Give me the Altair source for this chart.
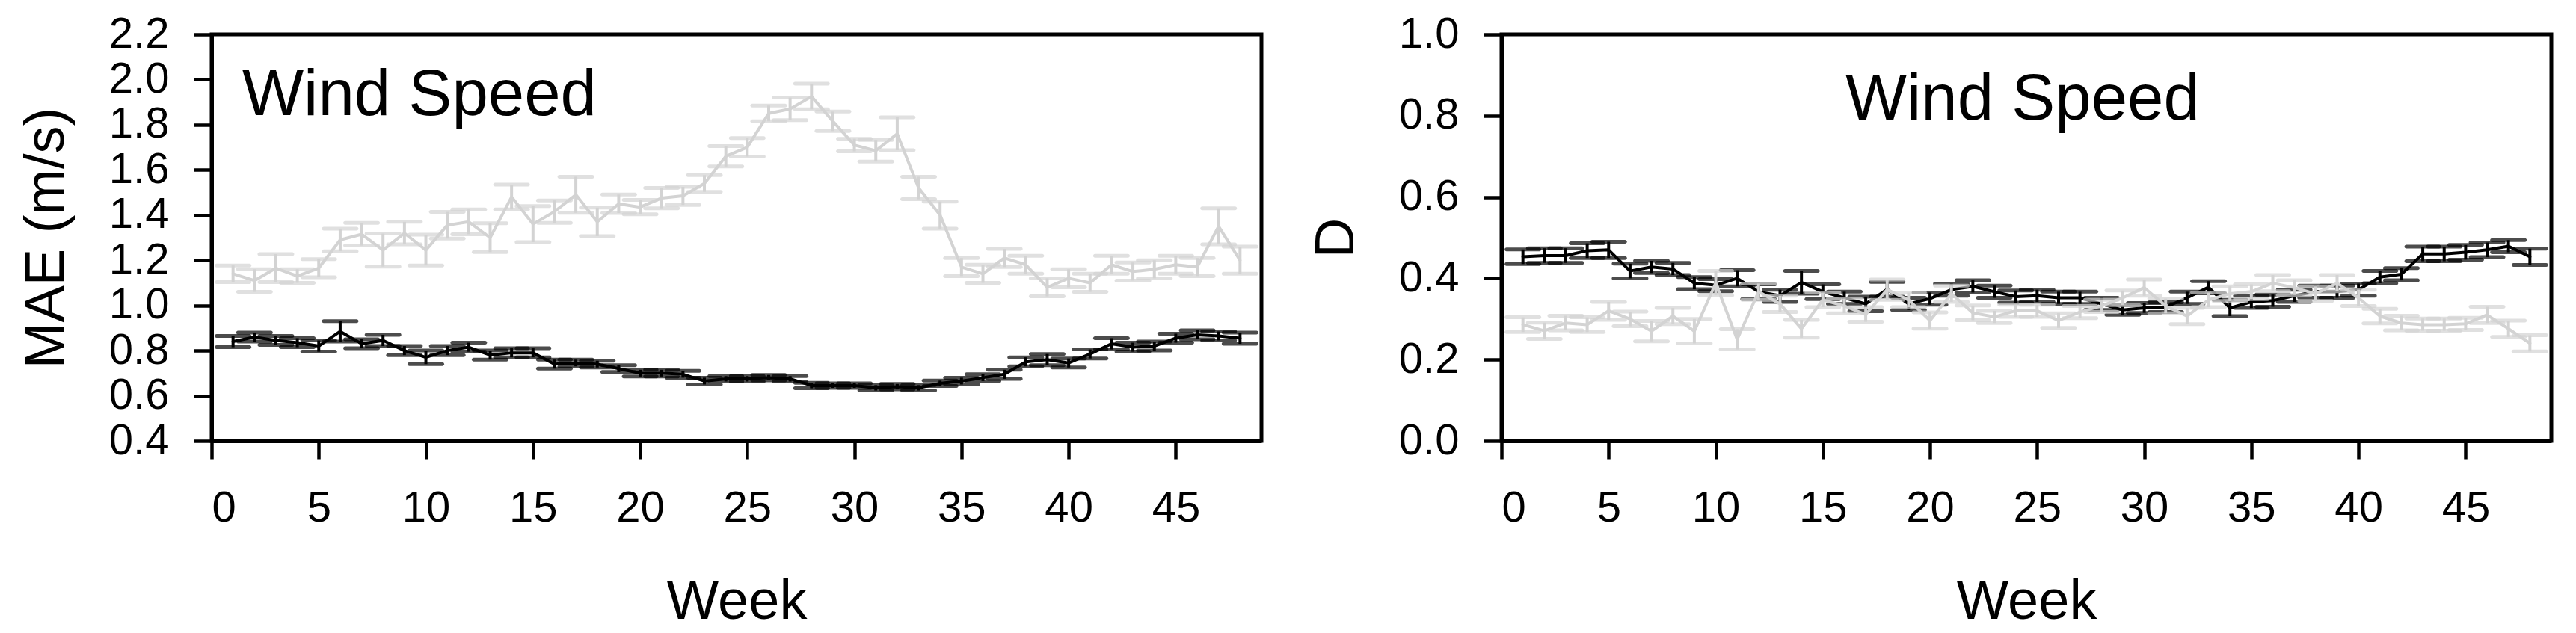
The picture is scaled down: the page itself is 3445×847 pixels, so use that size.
import altair as alt
import pandas as pd

weeks = list(range(1, 49))

mae_black = [0.84, 0.86, 0.845, 0.835, 0.82, 0.885, 0.83, 0.845, 0.80, 0.77, 0.80, 0.815,
             0.78, 0.79, 0.79, 0.74, 0.745, 0.74, 0.72, 0.70, 0.70, 0.695, 0.665, 0.675,
             0.675, 0.68, 0.675, 0.645, 0.645, 0.645, 0.635, 0.64, 0.635, 0.655, 0.665, 0.68,
             0.695, 0.75, 0.76, 0.745, 0.785, 0.83, 0.815, 0.82, 0.855, 0.87, 0.865, 0.855]
mae_black_err = [0.025, 0.02, 0.02, 0.02, 0.025, 0.045, 0.02, 0.025, 0.02, 0.03, 0.02, 0.02,
                 0.02, 0.02, 0.02, 0.02, 0.015, 0.015, 0.015, 0.015, 0.015, 0.015, 0.015, 0.012,
                 0.012, 0.012, 0.012, 0.012, 0.01, 0.01, 0.012, 0.012, 0.012, 0.012, 0.015, 0.015,
                 0.02, 0.02, 0.025, 0.02, 0.02, 0.025, 0.02, 0.02, 0.02, 0.02, 0.02, 0.025]
mae_gray = [1.14, 1.11, 1.165, 1.13, 1.165, 1.29, 1.315, 1.245, 1.32, 1.245, 1.355, 1.37,
            1.30, 1.48, 1.36, 1.415, 1.49, 1.37, 1.45, 1.435, 1.475, 1.485, 1.54, 1.66,
            1.70, 1.85, 1.87, 1.925, 1.815, 1.71, 1.685, 1.76, 1.52, 1.40, 1.17, 1.14,
            1.21, 1.18, 1.08, 1.12, 1.10, 1.18, 1.15, 1.16, 1.18, 1.17, 1.35, 1.20]
mae_gray_err = [0.037, 0.05, 0.062, 0.03, 0.04, 0.05, 0.05, 0.073, 0.05, 0.068, 0.059, 0.055,
                0.064, 0.055, 0.08, 0.05, 0.08, 0.063, 0.041, 0.032, 0.045, 0.04, 0.037, 0.045,
                0.041, 0.035, 0.05, 0.057, 0.043, 0.028, 0.048, 0.073, 0.05, 0.06, 0.04, 0.04,
                0.04, 0.04, 0.04, 0.04, 0.04, 0.04, 0.04, 0.04, 0.04, 0.04, 0.08, 0.06]

d_black = [0.453, 0.456, 0.456, 0.468, 0.47, 0.418, 0.428, 0.423, 0.388, 0.383, 0.40, 0.367,
           0.357, 0.39, 0.367, 0.352, 0.337, 0.373, 0.337, 0.35, 0.372, 0.38, 0.367, 0.355,
           0.357, 0.352, 0.352, 0.337, 0.322, 0.327, 0.329, 0.352, 0.378, 0.327, 0.342, 0.345,
           0.357, 0.367, 0.367, 0.372, 0.403, 0.41, 0.46, 0.46, 0.464, 0.47, 0.479, 0.453]
d_black_err = [0.018, 0.018, 0.018, 0.018, 0.02, 0.018, 0.015, 0.015, 0.015, 0.015, 0.02, 0.018,
               0.015, 0.028, 0.018, 0.015, 0.018, 0.018, 0.015, 0.015, 0.015, 0.015, 0.015, 0.015,
               0.015, 0.015, 0.015, 0.015, 0.012, 0.012, 0.012, 0.015, 0.015, 0.02, 0.015, 0.015,
               0.015, 0.015, 0.015, 0.015, 0.015, 0.015, 0.018, 0.018, 0.018, 0.018, 0.015, 0.02]
d_gray = [0.286, 0.271, 0.29, 0.286, 0.32, 0.30, 0.27, 0.307, 0.27, 0.388, 0.25, 0.367,
          0.337, 0.276, 0.347, 0.332, 0.311, 0.372, 0.347, 0.296, 0.362, 0.315, 0.305, 0.32,
          0.32, 0.296, 0.317, 0.332, 0.352, 0.377, 0.332, 0.307, 0.347, 0.362, 0.367, 0.388,
          0.377, 0.362, 0.388, 0.352, 0.307, 0.29, 0.286, 0.286, 0.288, 0.31, 0.276, 0.24]
d_gray_err = [0.018, 0.02, 0.018, 0.018, 0.022, 0.018, 0.025, 0.02, 0.03, 0.03, 0.025, 0.02,
              0.02, 0.022, 0.018, 0.018, 0.018, 0.025, 0.018, 0.02, 0.02, 0.018, 0.015, 0.015,
              0.015, 0.018, 0.015, 0.015, 0.018, 0.02, 0.018, 0.02, 0.018, 0.018, 0.018, 0.02,
              0.018, 0.018, 0.02, 0.02, 0.018, 0.018, 0.015, 0.015, 0.015, 0.02, 0.02, 0.02]

x_ticks = [0, 5, 10, 15, 20, 25, 30, 35, 40, 45]
mae_ticks = [0.4, 0.6, 0.8, 1.0, 1.2, 1.4, 1.6, 1.8, 2.0, 2.2]
d_ticks = [0.0, 0.2, 0.4, 0.6, 0.8, 1.0]

FONT = "Liberation Sans, Arial, Helvetica, sans-serif"
BLACK = "#000000"
GRAY = "#d3d3d3"


def frame(values, errs):
    return pd.DataFrame({
        "week": weeks,
        "mean": values,
        "lo": [v - e for v, e in zip(values, errs)],
        "hi": [v + e for v, e in zip(values, errs)],
    })


def series_layers(df, color, ydom):
    base = alt.Chart(df)
    xs = alt.X("week:Q", scale=alt.Scale(domain=[0, 49], nice=False, zero=False))
    line = base.mark_line(color=color, strokeWidth=4, strokeJoin="round", strokeCap="round").encode(
        x=xs, y=alt.Y("mean:Q", scale=alt.Scale(domain=ydom, nice=False, zero=False)))
    stem = base.mark_rule(color=color, strokeWidth=4).encode(x=xs, y="lo:Q", y2="hi:Q")
    cap_hi = base.mark_tick(color=color, orient="horizontal", size=49, thickness=5,
                            cornerRadius=2.5).encode(x=xs, y="hi:Q")
    cap_lo = base.mark_tick(color=color, orient="horizontal", size=49, thickness=5,
                            cornerRadius=2.5).encode(x=xs, y="lo:Q")
    return [line, stem, cap_hi, cap_lo]


def panel(black_df, gray_df, ydom, yticks, ytitle, label_df, label_align):
    axis_x = alt.Axis(values=x_ticks, title="Week")
    axis_y = alt.Axis(values=yticks, format=".1f", title=ytitle)
    skeleton = alt.Chart(black_df).mark_line(opacity=0).encode(
        x=alt.X("week:Q", axis=axis_x, scale=alt.Scale(domain=[0, 49], nice=False, zero=False)),
        y=alt.Y("mean:Q", axis=axis_y, scale=alt.Scale(domain=ydom, nice=False, zero=False)),
    )
    text = alt.Chart(label_df).mark_text(
        font=FONT, fontSize=87, color=BLACK, align=label_align, baseline="alphabetic"
    ).encode(x="x:Q", y="y:Q", text="label:N")
    layers = [skeleton] + series_layers(black_df, BLACK, ydom) + series_layers(gray_df, GRAY, ydom) + [text]
    return alt.layer(*layers).properties(width=1404, height=544)


left_label = pd.DataFrame({"x": [1.43], "y": [1.841], "label": ["Wind Speed"]})
right_label = pd.DataFrame({"x": [16.05], "y": [0.79], "label": ["Wind Speed"]})

left = panel(frame(mae_black, mae_black_err), frame(mae_gray, mae_gray_err),
             [0.4, 2.2], mae_ticks, "MAE (m/s)", left_label, "left")
right = panel(frame(d_black, d_black_err), frame(d_gray, d_gray_err),
              [0.0, 1.0], d_ticks, "D", right_label, "left")

chart = alt.hconcat(left, right, spacing=57).properties(
    padding={"left": 14, "top": 6, "right": 5, "bottom": 0}
).configure_view(
    stroke=BLACK, strokeWidth=5
).configure_axis(
    grid=False,
    domainColor=BLACK, domainWidth=5,
    tickColor=BLACK, tickWidth=4.5, tickSize=24,
    labelFont=FONT, labelFontSize=58, labelColor=BLACK, labelPadding=33,
    titleFont=FONT, titleFontSize=74, titleFontWeight="normal", titleColor=BLACK,
    titlePadding=45,
).configure_axisX(
    labelPadding=37, titlePadding=60,
)

chart.save("out.html", embed_options={"renderer": "svg", "actions": False})
